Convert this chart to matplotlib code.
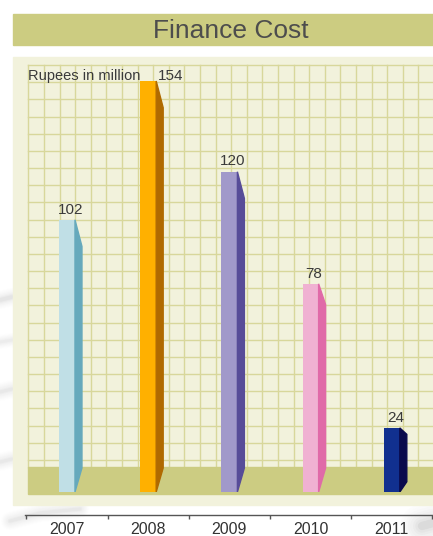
import numpy as np
import matplotlib
matplotlib.use("Agg")
import matplotlib.pyplot as plt
from matplotlib.patches import Rectangle, Polygon

plt.rcParams['font.family'] = ['Liberation Sans', 'DejaVu Sans']

# ---- data -------------------------------------------------------------
years = ["2007", "2008", "2009", "2010", "2011"]
finance_cost = [102, 154, 120, 78, 24]          # Rupees in million
front_colors = ["#C0DFE6", "#FFB000", "#A199CA", "#F0B1D2", "#11308F"]
side_colors = ["#66A9BC", "#B06A00", "#574C98", "#E06AA8", "#0A0A4C"]
title = "Finance Cost"
unit_label = "Rupees in million"

W, H = 433, 536
fig = plt.figure(figsize=(W / 100, H / 100), dpi=100)

# ---- background layer in pixel coordinates ---------------------------
bg = fig.add_axes([0, 0, 1, 1])
bg.set_xlim(0, W)
bg.set_ylim(H, 0)
bg.axis("off")
bg.set_zorder(0)

# soft grey brush strokes in the page margin
def stroke(xs, ys, width, alpha):
    for k in range(8):
        bg.plot(xs, ys, color="#b5b5b5", lw=width * (1 + 0.6 * k),
                alpha=alpha / (1 + 0.8 * k), solid_capstyle="round", zorder=0)

stroke([0, 12], [300, 297], 2.5, 0.12)
stroke([0, 12], [342, 340], 2, 0.08)
stroke([0, 12], [392, 389], 2.5, 0.1)
stroke([0, 12], [462, 459], 2.5, 0.1)
stroke([10, 40, 80], [521, 513, 509], 2.5, 0.1)
stroke([422, 433], [526, 523], 6, 0.18)

# title band
bg.add_patch(Rectangle((13, 14), W - 13, 31, color="#CCCC81", zorder=1))
bg.text(231, 30.5, title, ha="center", va="center", fontsize=19,
        color="#4D4D4D", zorder=2)

# chart panel
bg.add_patch(Rectangle((13, 57), W - 13, 448, color="#F2F2DC", zorder=1))

# graph-paper grid
grid_col = "#D8D79B"
gx0, gy0, gy1 = 28.3, 65, 467
for k in range(26):
    xg = gx0 + 15.6 * k
    bg.plot([xg, xg], [gy0, gy1], color=grid_col, lw=1.0, zorder=1.5)
for k in range(24):
    yg = gy0 + 17.17 * k
    bg.plot([gx0, W], [yg, yg], color=grid_col, lw=1.0, zorder=1.5)

# floor strip
bg.add_patch(Rectangle((gx0, 467), W - gx0, 27, color="#CCCC82", zorder=1.6))

bg.text(28, 76, unit_label, ha="left", va="center", fontsize=10.5,
        color="#3A3A3A", zorder=3)

# ---- data axes --------------------------------------------------------
ax_left, ax_right = 25, W
ax_top, ax_bottom = 65, 492
ax = fig.add_axes([ax_left / W, (H - ax_bottom) / H,
                   (ax_right - ax_left) / W, (ax_bottom - ax_top) / H])
ax.set_zorder(2)
ax.patch.set_visible(False)
ax.set_xlim(-0.517, 4.507)
ax.set_ylim(0, 160)

bar_w = 0.197
side_w = 0.086
x = np.arange(len(years))
ax.bar(x, finance_cost, width=bar_w, color=front_colors, zorder=3)

for i, v in enumerate(finance_cost):
    x0 = i + bar_w / 2
    x1 = x0 + side_w
    drop = min(10, 0.1 * v)
    rise = min(9, 0.16 * v)
    ax.add_patch(Polygon([(x0, v), (x1, v - drop), (x1, rise), (x0, 0)],
                         closed=True, color=side_colors[i], zorder=3))
    if v > ax.get_ylim()[1] - 8:
        ax.annotate(str(v), xy=(x0, v), xytext=(1.5, 3.5),
                    textcoords="offset points", ha="left", va="center",
                    fontsize=11, color="#3A3A3A", zorder=4)
    else:
        ax.annotate(str(v), xy=(i + side_w / 2, v), xytext=(0, 4.5),
                    textcoords="offset points", ha="center", va="baseline",
                    fontsize=11, color="#3A3A3A", zorder=4)

# category axis below the panel
for s in ["top", "right", "left"]:
    ax.spines[s].set_visible(False)
ax.spines["bottom"].set_position(("outward", 23 * 0.72))
ax.spines["bottom"].set_color("#555555")
ax.spines["bottom"].set_linewidth(1.0)
ax.set_yticks([])
ax.set_xticks(x)
ax.set_xticklabels(years)
ax.set_xticks(np.arange(-0.5, len(years)), minor=True)
ax.tick_params(axis="x", which="major", length=0, pad=5,
               labelsize=11.5, labelcolor="#333333")
ax.tick_params(axis="x", which="minor", length=3, width=1.0,
               color="#555555", direction="out")

fig.savefig("out.png", dpi=100)
